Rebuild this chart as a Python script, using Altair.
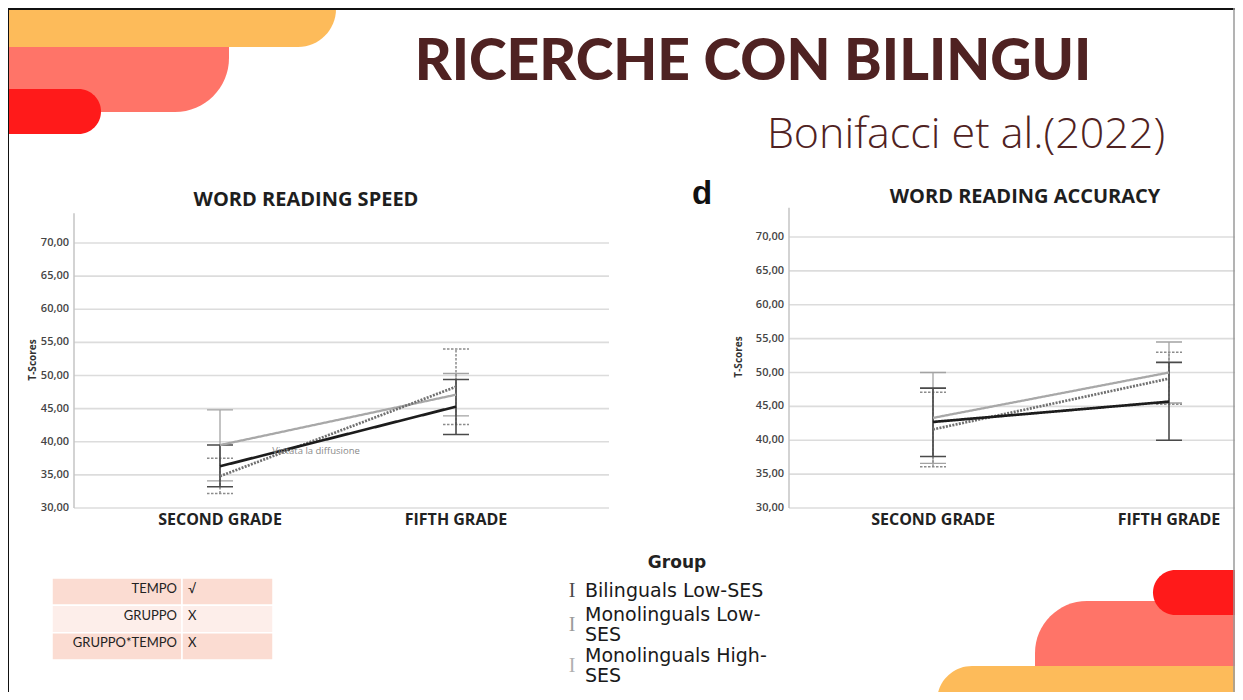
import altair as alt
import pandas as pd

OFF = 8          # page margin: canvas = page - 8
W, H = 1227, 684

# ---------------- data ----------------
GRADES = ["SECOND GRADE", "FIFTH GRADE"]
GROUPS = ["Monolinguals High-SES", "Monolinguals Low-SES", "Bilinguals Low-SES"]
TICKS = [30, 35, 40, 45, 50, 55, 60, 65, 70]
TICK_LABELS = ["30,00", "35,00", "40,00", "45,00", "50,00", "55,00", "60,00", "65,00", "70,00"]

# Word reading speed  (per group: [second grade, fifth grade])
SPEED_MEAN = [[39.5, 47.1], [34.8, 48.3], [36.3, 45.3]]
SPEED_LOW = [[34.1, 43.9], [32.2, 42.6], [33.2, 41.1]]
SPEED_HIGH = [[44.8, 50.3], [37.5, 54.0], [39.5, 49.4]]

# Word reading accuracy
ACC_MEAN = [[43.3, 50.0], [41.6, 49.1], [42.7, 45.7]]
ACC_LOW = [[36.6, 45.5], [36.1, 45.3], [37.6, 40.0]]
ACC_HIGH = [[50.0, 54.5], [47.1, 53.0], [47.7, 51.5]]

TABLE_EFFECTS = ["TEMPO", "GRUPPO", "GRUPPO*TEMPO"]
TABLE_RESULTS = ["\u221a", "X", "X"]
TABLE_FILLS = ["#FBDCD2", "#FDEEEA", "#FBDCD2"]

LEGEND_TITLE = "Group"
LEGEND_LABELS = [["Bilinguals Low-SES"], ["Monolinguals Low-", "SES"], ["Monolinguals High-", "SES"]]

STYLE = {
    "Bilinguals Low-SES": dict(line="#1c1c1c", lw=2.7, dash=[1, 0], bar="#4a4a4a", bw=1.6, bdash=[1, 0]),
    "Monolinguals Low-SES": dict(line="#707070", lw=2.7, dash=[2, 1.3], bar="#8c8c8c", bw=1.5, bdash=[2.5, 1.5]),
    "Monolinguals High-SES": dict(line="#a8a8a8", lw=2.3, dash=[1, 0], bar="#a3a3a3", bw=1.3, bdash=[1, 0]),
}

one = pd.DataFrame({"k": [0]})


def P(v):
    return v - OFF


def txt(s, x, y, **kw):
    return alt.Chart(one).mark_text(text=s, **kw).encode(x=alt.value(P(x)), y=alt.value(P(y)))


def rect(x, x2, y, y2, color, **kw):
    return alt.Chart(one).mark_rect(color=color, **kw).encode(
        x=alt.value(P(x)), x2=alt.value(P(x2)), y=alt.value(P(y)), y2=alt.value(P(y2)))


def panel(mean, low, high, xr, yr, axis_x, grid_end, axis_top, label_x):
    rows = []
    for gi, g in enumerate(GROUPS):
        for ci, c in enumerate(GRADES):
            rows.append(dict(grade=c, group=g, mean=mean[gi][ci], low=low[gi][ci], high=high[gi][ci]))
    df = pd.DataFrame(rows)
    xs = alt.Scale(type="point", domain=GRADES, range=[P(xr[0]), P(xr[1])], padding=0)
    ys = alt.Scale(type="linear", domain=[30, 70], range=[P(yr[0]), P(yr[1])], zero=False, nice=False)
    X = alt.X("grade:N", scale=xs, axis=None)
    tdf = pd.DataFrame({"t": TICKS, "lab": TICK_LABELS})
    layers = []
    layers.append(alt.Chart(tdf).mark_rule(color="#dcdcdc", strokeWidth=1.6).encode(
        y=alt.Y("t:Q", scale=ys, axis=None), x=alt.value(P(axis_x)), x2=alt.value(P(grid_end))))
    layers.append(alt.Chart(one).mark_rule(color="#c4c4c4", strokeWidth=1.5).encode(
        x=alt.value(P(axis_x)), y=alt.Y(datum=30, scale=ys, axis=None), y2=alt.Y2(datum=axis_top)))
    layers.append(alt.Chart(tdf).mark_text(align="right", baseline="middle", fontSize=11, color="#454545",
                                           font="Open Sans", fontWeight=600).encode(
        y=alt.Y("t:Q", scale=ys, axis=None), x=alt.value(P(label_x)), text="lab:N"))
    gdf = pd.DataFrame({"grade": GRADES})
    layers.append(alt.Chart(gdf).mark_text(baseline="middle", fontSize=16, fontWeight="bold",
                                           font="Open Sans", color="#222").encode(
        x=X, y=alt.value(P(520)), text="grade:N"))
    for g in GROUPS:
        s = STYLE[g]
        sub = df[df.group == g]
        layers.append(alt.Chart(sub).mark_rule(color=s["bar"], strokeWidth=s["bw"], strokeDash=s["bdash"]).encode(
            x=X, y=alt.Y("low:Q", scale=ys, axis=None), y2="high:Q"))
        for f in ["low", "high"]:
            layers.append(alt.Chart(sub).mark_rule(color=s["bar"], strokeWidth=s["bw"], strokeDash=s["bdash"],
                                                   xOffset=-13, x2Offset=13).encode(
                x=X, x2=alt.X2("grade:N"), y=alt.Y(f + ":Q", scale=ys, axis=None)))
    for g in GROUPS:
        s = STYLE[g]
        sub = df[df.group == g]
        layers.append(alt.Chart(sub).mark_line(color=s["line"], strokeWidth=s["lw"], strokeDash=s["dash"]).encode(
            x=X, y=alt.Y("mean:Q", scale=ys, axis=None)))
    return layers


layers = []

# ---- decorations (top-left) ----
layers.append(rect(-50, 229, -40, 112, "#FF7468", cornerRadiusBottomRight=54))
layers.append(rect(-50, 336, -40, 47, "#FDBB5A", cornerRadiusBottomRight=38))
layers.append(rect(-50, 101, 89, 134, "#FF1A1A", cornerRadiusTopRight=22.5, cornerRadiusBottomRight=22.5))
# ---- decorations (bottom-right) ----
layers.append(rect(1035, 1300, 601, 760, "#FF7468", cornerRadiusTopLeft=52))
layers.append(rect(937, 1300, 666, 760, "#FDBB5A", cornerRadiusTopLeft=35))
layers.append(rect(1153, 1300, 570, 615, "#FF1A1A", cornerRadiusTopLeft=22.5, cornerRadiusBottomLeft=22.5))

# ---- slide titles ----
layers.append(txt("RICERCHE CON BILINGUI", 753, 80, font="Lato", fontWeight=900, fontSize=57,
                  color="#4F2222", align="center", baseline="alphabetic"))
layers.append(txt("Bonifacci et al.(2022)", 966, 148, font="Open Sans", fontWeight=300, fontSize=43,
                  color="#4F2222", align="center", baseline="alphabetic"))

# ---- panels ----
layers += panel(SPEED_MEAN, SPEED_LOW, SPEED_HIGH, (220, 456), (508, 243), 74, 609, 74.5, 69)
layers += panel(ACC_MEAN, ACC_LOW, ACC_HIGH, (933, 1169), (508, 237), 789, 1245, 74.3, 784)

layers.append(txt("WORD READING SPEED", 306, 200, font="Open Sans", fontWeight="bold", fontSize=20,
                  color="#1e1e1e", align="center", baseline="middle"))
layers.append(txt("WORD READING ACCURACY", 1025, 197, font="Open Sans", fontWeight="bold", fontSize=20,
                  color="#1e1e1e", align="center", baseline="middle"))
layers.append(txt("d", 702, 194, font="Liberation Sans", fontWeight="bold", fontSize=33,
                  color="#111", align="center", baseline="middle"))
layers.append(txt("T-Scores", 33, 360, font="Open Sans", fontWeight="bold", fontSize=10,
                  color="#333", align="center", baseline="middle", angle=270))
layers.append(txt("T-Scores", 739, 357, font="Open Sans", fontWeight="bold", fontSize=10,
                  color="#333", align="center", baseline="middle", angle=270))
layers.append(txt("Vietata la diffusione", 316, 451, font="Open Sans", fontSize=9.5,
                  color="#8a8a8a", align="center", baseline="middle"))

# ---- table ----
tdf = pd.DataFrame({"effect": TABLE_EFFECTS, "result": TABLE_RESULTS})
ty = alt.Y("effect:N", scale=alt.Scale(type="band", domain=TABLE_EFFECTS, range=[P(578), P(660)],
                                       paddingInner=0, paddingOuter=0), axis=None)
tfill = alt.Color("effect:N", scale=alt.Scale(domain=TABLE_EFFECTS, range=TABLE_FILLS), legend=None)
layers.append(alt.Chart(tdf).mark_rect(stroke="white", strokeWidth=1.5).encode(
    y=ty, x=alt.value(P(52)), x2=alt.value(P(182)), color=tfill))
layers.append(alt.Chart(tdf).mark_rect(stroke="white", strokeWidth=1.5).encode(
    y=ty, x=alt.value(P(182)), x2=alt.value(P(273)), color=tfill))
layers.append(alt.Chart(tdf).mark_text(align="right", baseline="middle", dy=-3, font="Lato", fontSize=13,
                                       color="#222").encode(y=ty, x=alt.value(P(177)), text="effect:N"))
layers.append(alt.Chart(tdf).mark_text(align="left", baseline="middle", dy=-3, font="Lato", fontSize=13,
                                       color="#222").encode(y=ty, x=alt.value(P(188)), text="result:N"))

# ---- legend ----
layers.append(txt(LEGEND_TITLE, 677, 563, font="DejaVu Sans", fontWeight="bold", fontSize=17,
                  color="#222", align="center", baseline="middle"))
leg_y = [591, 615, 656]
icon_y = [591, 625, 666]
icon_col = ["#4a4a4a", "#9a9a9a", "#b0b0b0"]
for i, lab in enumerate(LEGEND_LABELS):
    layers.append(txt(lab, 585, leg_y[i], font="DejaVu Sans", fontSize=19, color="#1a1a1a",
                      align="left", baseline="middle", lineHeight=20))
    layers.append(txt("I", 572, icon_y[i], font="Liberation Serif", fontSize=20, color=icon_col[i],
                      align="center", baseline="middle"))

# ---- slide border ----
layers.append(alt.Chart(one).mark_rule(color="#111", strokeWidth=2).encode(
    x=alt.value(0), x2=alt.value(W), y=alt.value(1)))
layers.append(alt.Chart(one).mark_rule(color="#111", strokeWidth=2).encode(
    x=alt.value(0), y=alt.value(0), y2=alt.value(H)))
layers.append(alt.Chart(one).mark_rule(color="#9a9a9a", strokeWidth=1.5).encode(
    x=alt.value(W - 1), y=alt.value(0), y2=alt.value(H)))

chart = alt.layer(*layers).resolve_scale(x="independent", y="independent", color="independent").properties(
    width=W, height=H, autosize="none", padding=0, background="white"
).configure_view(strokeWidth=0)

chart.save("out.html", embed_options={"renderer": "svg", "actions": False})
